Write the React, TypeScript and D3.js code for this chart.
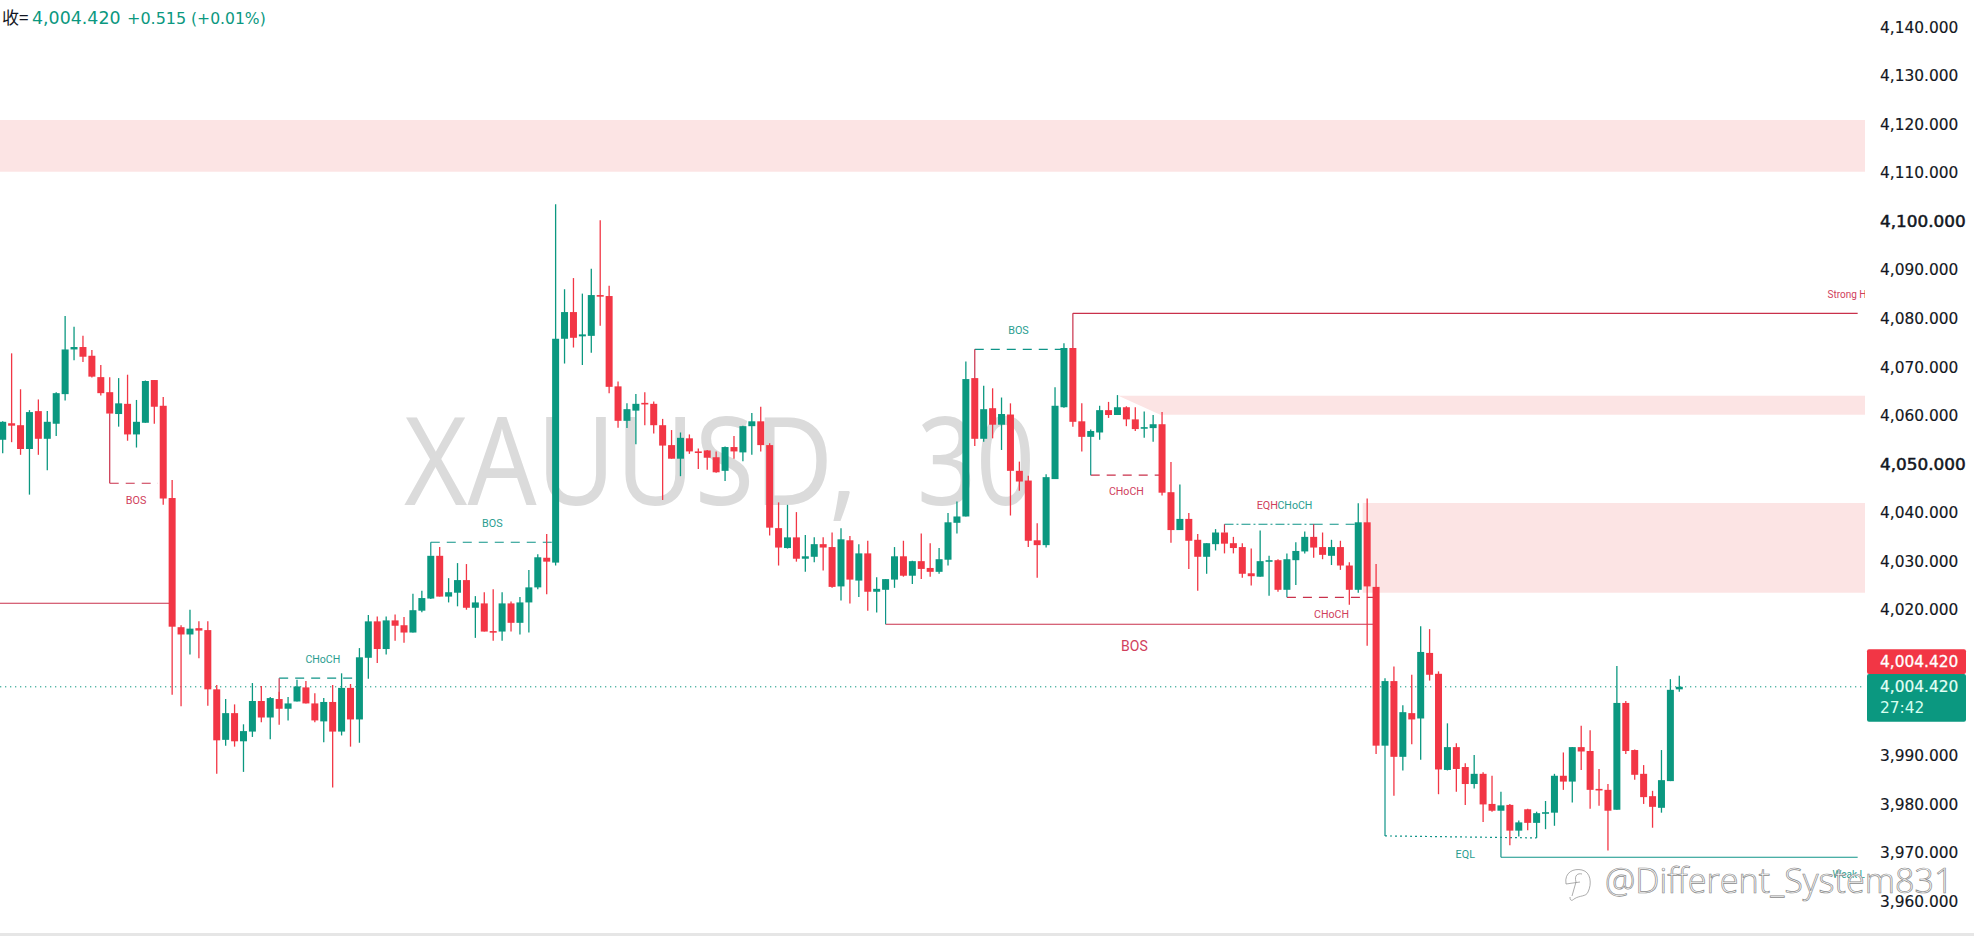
import React from "react";
import * as d3 from "d3";

const opens = [
4055.3,4058.7,4058.3,4053.4,4061.2,4055.5,4058.6,4064.7,4073.9,4074.4,
4072.6,4068.2,4065.1,4060.6,4062.7,4056.4,4058.8,4067.6,4062.3,4043.3,
4016.7,4015.2,4016.5,4016.1,4003.9,3993.5,3999.0,3993.2,3995.2,4001.5,
3998.1,4001.9,3999.9,4001.4,4004.3,4001.0,3997.3,4001.3,3995.2,4004.2,
3997.7,4010.4,4017.9,4012.2,4018.1,4017.1,4015.6,4020.1,4022.6,4031.4,
4023.0,4023.8,4026.4,4020.7,4021.6,4015.9,4015.8,4021.6,4017.6,4021.8,
4024.9,4031.0,4030.0,4076.1,4081.6,4076.6,4076.7,4085.1,4084.9,4066.3,
4059.2,4061.3,4062.9,4062.7,4058.3,4054.2,4051.4,4055.6,4052.9,4053.1,
4051.7,4048.9,4053.8,4052.7,4058.1,4059.1,4054.2,4037.1,4033.0,4035.2,
4030.8,4031.2,4033.8,4033.2,4025.1,4034.6,4026.3,4031.9,4024.0,4024.4,
4026.5,4031.3,4027.3,4030.3,4028.9,4028.1,4030.6,4038.2,4039.5,4068.0,
4055.5,4061.8,4058.4,4060.5,4048.9,4046.9,4034.6,4033.6,4047.2,4062.0,
4074.2,4059.1,4055.9,4056.8,4061.4,4060.4,4062.0,4059.5,4057.7,4057.7,
4058.5,4044.5,4036.7,4039.0,4034.7,4031.2,4033.8,4036.2,4034.0,4033.2,
4027.8,4027.1,4030.2,4030.5,4024.4,4030.5,4032.3,4035.3,4033.2,4031.4,
4033.2,4029.4,4024.4,4038.3,4025.0,3992.3,4005.6,3990.0,3999.0,3997.9,
4011.4,4007.1,3987.3,3992.0,3987.9,3984.4,3986.5,3980.3,3978.9,3980.1,
3974.8,3979.2,3976.4,3978.4,3978.5,3986.1,3984.9,3992.0,3991.2,3983.4,
3983.2,3979.1,4001.1,3991.4,3986.5,3981.9,3979.5,3985.0,4003.9];

const highs = [
4059.1,4073.1,4065.7,4061.4,4063.6,4061.2,4065.1,4080.8,4078.6,4076.7,
4073.8,4070.7,4068.2,4068.0,4068.7,4063.5,4067.5,4067.6,4064.1,4047.0,
4017.1,4020.3,4017.9,4017.9,4004.8,4001.9,4000.8,3996.7,4005.2,4004.6,
4002.3,4003.4,4002.3,4005.9,4005.6,4003.1,4002.1,4004.8,4007.2,4005.0,
4012.4,4019.2,4018.9,4018.9,4019.3,4018.8,4023.6,4024.2,4031.4,4033.2,
4026.8,4029.9,4029.7,4023.1,4023.9,4024.5,4023.9,4022.0,4022.9,4028.5,
4031.7,4035.9,4103.8,4086.3,4088.6,4085.4,4090.5,4100.5,4087.0,4067.3,
4062.8,4064.7,4065.1,4063.2,4059.6,4057.3,4056.8,4056.4,4053.5,4053.2,
4052.9,4053.9,4056.1,4058.2,4060.8,4062.1,4054.6,4042.4,4041.9,4040.4,
4035.7,4035.2,4035.2,4036.2,4037.1,4035.5,4033.8,4034.5,4027.0,4026.6,
4033.2,4034.5,4030.4,4036.0,4034.0,4033.0,4040.2,4042.6,4071.4,4068.0,
4066.4,4065.9,4064.0,4062.8,4050.8,4047.9,4038.1,4048.2,4066.1,4075.2,
4074.2,4062.8,4057.4,4062.3,4063.1,4064.5,4062.2,4062.0,4061.1,4060.4,
4061.0,4050.7,4046.1,4040.2,4035.9,4034.0,4036.9,4036.2,4035.3,4034.0,
4032.9,4036.6,4031.4,4030.7,4031.9,4034.2,4036.4,4035.3,4036.2,4034.7,
4034.5,4030.1,4042.2,4043.2,4029.7,4006.2,4008.6,4000.6,4006.9,4016.9,
4016.3,4007.6,3996.9,3992.8,3988.7,3990.4,3986.8,3986.1,3982.8,3980.3,
3976.9,3979.3,3978.7,3980.9,3986.5,3990.9,3992.0,3996.4,3995.5,3987.5,
3984.4,4008.7,4001.5,3991.5,3988.3,3983.0,3991.4,4006.0,4006.7];

const lows = [
4052.5,4054.8,4052.2,4044.0,4052.2,4049.0,4056.1,4063.4,4071.7,4071.3,
4068.1,4064.4,4060.7,4058.0,4055.1,4053.7,4058.8,4058.6,4041.9,4002.8,
4000.4,4011.1,4010.3,4000.5,3986.5,3992.3,3992.1,3986.9,3994.1,3997.1,
3993.6,3996.6,3997.5,4001.4,4001.0,3997.1,3993.0,3983.7,3994.4,3992.1,
3992.9,4006.1,4009.3,4011.1,4013.9,4013.5,4015.6,4019.8,4022.5,4023.0,
4021.8,4021.0,4020.3,4014.5,4015.8,4013.9,4013.9,4015.8,4015.2,4015.6,
4024.5,4023.5,4029.4,4071.0,4074.3,4070.7,4073.2,4078.8,4064.9,4057.8,
4057.7,4054.4,4058.3,4056.6,4042.9,4051.4,4047.8,4052.4,4049.3,4049.1,
4048.5,4046.8,4051.4,4050.9,4052.2,4052.9,4035.6,4029.4,4032.9,4030.2,
4028.1,4030.1,4028.4,4024.8,4022.2,4021.6,4022.9,4020.1,4019.7,4024.4,
4024.8,4027.1,4025.6,4026.6,4027.1,4027.7,4029.4,4036.0,4039.5,4054.0,
4054.9,4055.6,4053.2,4039.7,4044.8,4033.2,4026.9,4033.1,4047.2,4061.9,
4058.0,4052.9,4055.9,4055.3,4059.8,4060.4,4058.1,4057.1,4055.7,4054.9,
4043.8,4034.1,4036.7,4028.7,4024.2,4027.7,4032.5,4031.9,4031.9,4026.9,
4025.3,4027.1,4023.2,4024.0,4024.4,4025.4,4031.9,4031.0,4030.7,4029.5,
4028.5,4021.3,4023.8,4012.9,3990.6,3992.3,3982.0,3987.2,3992.6,3989.4,
4005.7,3982.3,3987.2,3982.8,3980.1,3983.5,3976.6,3978.7,3978.9,3971.8,
3973.6,3974.9,3973.3,3975.1,3975.8,3983.2,3980.6,3987.3,3979.3,3979.9,
3970.7,3979.1,3990.6,3985.3,3980.3,3975.4,3978.5,3985.0,4003.4];

const closes = [
4059.0,4058.2,4053.4,4061.0,4055.5,4059.0,4064.9,4073.9,4074.4,4072.4,
4068.3,4064.9,4060.7,4062.8,4056.4,4059.0,4067.4,4062.1,4043.2,4016.8,
4015.2,4016.4,4016.0,4003.9,3993.4,3999.0,3993.2,3995.3,4001.5,3998.1,
4002.1,3999.9,4001.0,4004.5,4001.0,3997.5,4001.3,3995.2,4004.2,3997.7,
4010.5,4017.9,4012.2,4018.1,4017.0,4015.6,4020.2,4022.7,4031.4,4023.0,
4023.9,4026.4,4020.7,4021.8,4015.8,4015.8,4021.6,4017.6,4021.8,4024.9,
4031.1,4030.2,4076.1,4081.6,4076.3,4077.0,4085.1,4085.0,4066.2,4059.2,
4061.6,4062.7,4062.7,4058.3,4054.1,4051.4,4055.7,4052.9,4052.7,4051.6,
4048.6,4053.8,4052.9,4058.1,4059.1,4054.2,4037.2,4033.1,4035.2,4030.8,
4031.3,4033.8,4033.1,4025.0,4034.8,4026.5,4031.9,4024.0,4024.6,4026.6,
4031.3,4027.3,4030.3,4028.7,4028.1,4030.7,4038.3,4039.5,4067.8,4055.5,
4061.6,4058.4,4060.6,4048.9,4046.7,4034.5,4033.6,4047.6,4062.3,4074.2,
4059.0,4055.9,4057.1,4061.4,4060.4,4062.0,4059.5,4057.5,4057.9,4058.5,
4044.4,4036.7,4039.0,4034.5,4031.2,4034.0,4036.2,4033.9,4033.0,4027.7,
4027.2,4030.3,4030.5,4024.4,4030.7,4032.4,4035.3,4033.1,4031.6,4033.2,
4029.4,4024.4,4038.3,4025.1,3992.3,4005.6,3990.0,3999.2,3997.7,4011.6,
4006.9,3987.4,3992.0,3987.5,3984.4,3986.5,3980.2,3978.9,3980.0,3974.8,
3976.5,3976.4,3978.4,3978.6,3986.1,3984.9,3992.0,3991.1,3983.2,3983.2,
3978.9,4001.1,3991.2,3986.3,3981.7,3979.7,3985.2,4003.8,4004.42];

const tickPrices = [4140,4130,4120,4110,4100,4090,4080,4070,4060,4050,4040,4030,4020,3990,3980,3970,3960];
const boldTicks = [4100,4050];

const zoneStartTop = [-1,125.1,152.5];
const zoneStartBottom = [-1,129.8,152.5];
const zoneTop = [4121.16,4064.38,4042.29];
const zoneBottom = [4110.51,4060.47,4023.81];

// horizontal structure lines: from bar, to bar, price, vertical stem start, style
const lineFrom = [-1,120,99,168,12,48,31,109,122,137,147,144,155];
const lineTo = [19,208,154,208,17.4,61.6,39.3,119,129.7,147,152,154,172];
const linePrice = [4021.63,4081.35,4017.31,3969.32,4046.34,4034.19,4006.19,4073.93,4048.0,4037.9,4037.9,4022.86,3973.71];
const lineEndPrice = [4021.63,4081.35,4017.31,3969.32,4046.34,4034.19,4006.19,4073.93,4048.0,4037.9,4037.9,4022.86,3973.3];
const stemPrice = [null,4074.2,4024.4,3978.9,4060.7,4031.4,4001.9,4068.0,4055.9,4036.2,4035.3,4024.4,3992.3];
const lineSide = ["r","r","r","t","r","t","t","t","r","t","t","r","t"];
const stemSide = ["r","r","t","t","r","t","r","r","t","r","r","t","t"];
const lineDash = ["","","","","9 7","9 7","9 7","9 7","9 7","9 3 2 3","9 7","9 7","2 3"];

const labelText = ["BOS","BOS","CHoCH","BOS","CHoCH","EQH","CHoCH","CHoCH","BOS","EQL","Strong H","Weak L"];
const labelBar = [14.95,54.9,35.9,113.9,126,141.8,144.9,149,126.9,164,206.8,207];
const labelPrice = [4042.7,4038.0,4010.0,4077.9,4044.6,4041.7,4041.7,4019.4,4012.8,3969.8,4085.3,3965.7];
const labelSide = ["r","t","t","t","r","r","t","r","r","t","r","t"];
const labelSize = [10.8,10.8,10.6,10.8,10.6,10.8,10.6,10.6,14,10.8,10,10];

const lastPrice = 4004.42;
const GREEN = "#0b9880";
const RED = "#F23645";
const LINE_RED = "#c9314b";
const LINE_TEAL = "#0f9488";
const ZONE = "#fce4e4";
const FONT = "'DejaVu Sans', sans-serif";
const INK = "#131722";

export default function App() {
  const x = d3.scaleLinear().domain([0, 188]).range([2.7, 1679.3]);
  const y = d3.scaleLinear().domain([3960, 4140]).range([902.5, 28.5]);
  const fmt = d3.format(",.3f");
  const chartRight = 1865;
  const axisX = 1880;
  const bodyW = 7;
  const side = (s: string) => (s === "r" ? LINE_RED : LINE_TEAL);
  const tagTop = y(lastPrice) - 37.5;

  return (
    <svg
      width={1974}
      height={936}
      viewBox="0 0 1974 936"
      style={{ position: "absolute", left: 0, top: 0, background: "#fff", display: "block" }}
    >
      <defs>
        <clipPath id="plot">
          <rect x={0} y={0} width={chartRight} height={936} />
        </clipPath>
      </defs>

      <g fontFamily="'Noto Sans', sans-serif" fontSize={123} fill="#dbdbdb">
        <text x={404} y={505} textLength={454} lengthAdjust="spacingAndGlyphs">XAUUSD,</text>
        <text x={917} y={505} textLength={118} lengthAdjust="spacingAndGlyphs">30</text>
      </g>

      <g clipPath="url(#plot)">
        {zoneTop.map((t, i) => {
          const pts = [
            [x(zoneStartTop[i]), y(t)],
            [chartRight, y(t)],
            [chartRight, y(zoneBottom[i])],
            [x(zoneStartBottom[i]), y(zoneBottom[i])],
          ];
          return <polygon key={i} points={pts.map((p) => p.join(",")).join(" ")} fill={ZONE} />;
        })}

        <line
          x1={0}
          x2={chartRight}
          y1={y(lastPrice)}
          y2={y(lastPrice)}
          stroke={GREEN}
          strokeWidth={1}
          strokeDasharray="1.3 3.7"
        />

        {lineFrom.map((f, i) => {
          const stem = stemPrice[i];
          return (
            <g key={i} fill="none">
              <line
                x1={x(f)}
                x2={x(lineTo[i])}
                y1={y(linePrice[i])}
                y2={y(lineEndPrice[i])}
                stroke={side(lineSide[i])}
                strokeWidth={1.2}
                strokeDasharray={lineDash[i] || undefined}
              />
              {stem !== null && (
                <line
                  x1={x(f)}
                  x2={x(f)}
                  y1={y(stem)}
                  y2={y(linePrice[i])}
                  stroke={side(stemSide[i])}
                  strokeWidth={1.2}
                />
              )}
            </g>
          );
        })}

        {opens.map((o, i) => {
          const c = closes[i];
          const up = c >= o;
          const col = up ? GREEN : RED;
          const top = y(Math.max(o, c));
          const h = Math.max(1.6, y(Math.min(o, c)) - top);
          return (
            <g key={i}>
              <line x1={x(i)} x2={x(i)} y1={y(highs[i])} y2={y(lows[i])} stroke={col} strokeWidth={1.3} />
              <rect x={x(i) - bodyW / 2} y={top} width={bodyW} height={h} fill={col} />
            </g>
          );
        })}

        {labelText.map((t, i) => (
          <text
            key={i}
            x={x(labelBar[i])}
            y={y(labelPrice[i])}
            textAnchor="middle"
            dominantBaseline="central"
            fontFamily="Roboto, sans-serif"
            fontSize={labelSize[i]}
            fill={labelSide[i] === "r" ? "#d0405c" : "#2a9d90"}
          >
            {t}
          </text>
        ))}
      </g>

      {tickPrices.map((p) => {
        const bold = boldTicks.includes(p);
        return (
          <text
            key={p}
            x={axisX}
            y={y(p) - 0.8}
            dominantBaseline="central"
            fontFamily={FONT}
            fontSize={15.4}
            fill={INK}
            stroke={INK}
            strokeWidth={bold ? 0.5 : 0.15}
            textLength={bold ? 85.7 : undefined}
            lengthAdjust="spacingAndGlyphs"
          >
            {fmt(p)}
          </text>
        );
      })}

      <rect x={1867} y={tagTop} width={99} height={24.7} rx={2} fill={RED} />
      <rect x={1867} y={tagTop + 24.7} width={99} height={47.7} rx={2} fill={GREEN} />
      <g fontFamily={FONT} fontSize={15.4} dominantBaseline="central">
        <text x={axisX} y={tagTop + 12.6} fill="#fff" stroke="#fff" strokeWidth={0.3}>{fmt(lastPrice)}</text>
        <text x={axisX} y={y(lastPrice)} fill="#e4fff6" stroke="#e4fff6" strokeWidth={0.2}>{fmt(lastPrice)}</text>
        <text x={axisX} y={y(lastPrice) + 20.8} fill="#d6fff0">27:42</text>
      </g>

      <text x={2} y={24} fontFamily="'Noto Sans CJK SC', sans-serif" fontSize={17} fill={INK}>收=</text>
      <g fontFamily={FONT} fill={GREEN}>
        <text x={32} y={24} fontSize={17.4}>{fmt(lastPrice)}</text>
        <text x={127} y={24} fontSize={16}>+0.515</text>
        <text x={191} y={24} fontSize={15.6}>(+0.01%)</text>
      </g>

      <g fill="#fff" stroke="#8a8a8a" strokeWidth={0.7}>
        <path
          d="M1566 884 C1564 872 1574 868 1582 870 C1591 872 1592 884 1588 892 C1586 897 1580 895 1574 899 C1572 901 1570 901 1570 897"
          fill="none"
        />
        <path d="M1576 882 C1574 875 1578 873 1582 874 M1566 884 L1580 882 M1576 882 L1572 896" fill="none" />
        <text x={1605} y={893} fontFamily="'Open Sans', sans-serif" fontWeight={300} fontSize={34.2}>
          @Different_System831
        </text>
      </g>

      <rect x={0} y={933} width={1974} height={3} fill="#e6e6e6" />
    </svg>
  );
}
